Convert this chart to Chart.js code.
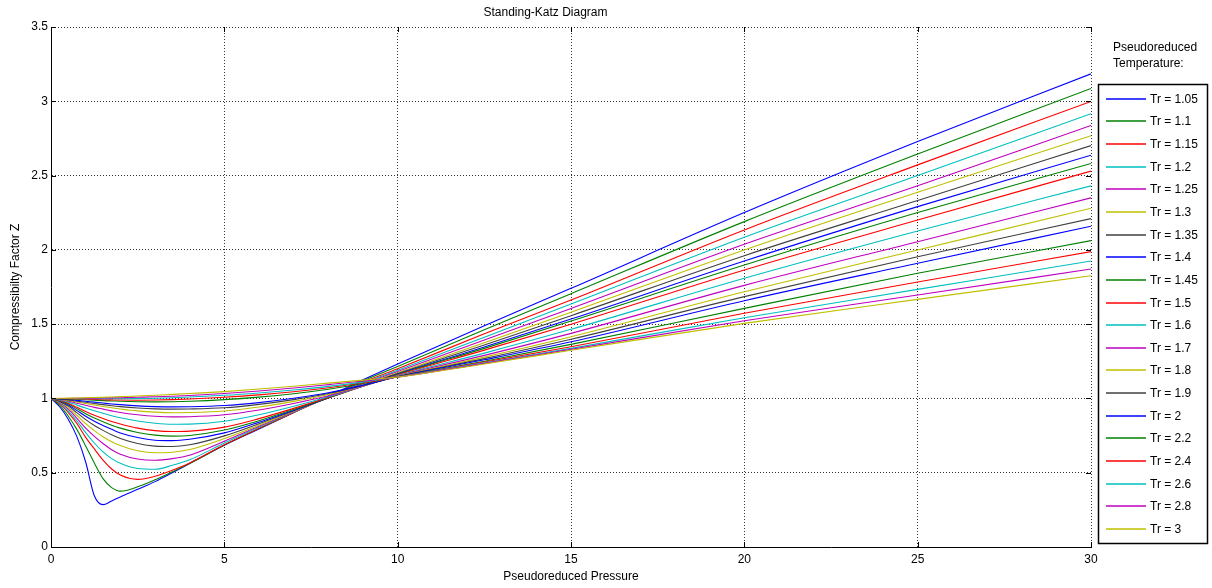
<!DOCTYPE html>
<html>
<head>
<meta charset="utf-8">
<script src="https://cdn.jsdelivr.net/npm/chart.js@4.4.1/dist/chart.umd.min.js"></script>
<style>
html,body{margin:0;padding:0;background:#fff;}
canvas{display:block;}
</style>
</head>
<body>
<canvas id="c" width="1212" height="588"></canvas>
<script>
// ---- data ----
const pressures = [0, 0.25, 0.5, 0.75, 1, 1.25, 1.5, 1.75, 2, 2.5, 3, 3.5, 4, 5, 6, 7, 8, 9, 10, 12.5, 15, 20, 25, 30];
const trValues = [1.05, 1.1, 1.15, 1.2, 1.25, 1.3, 1.35, 1.4, 1.45, 1.5, 1.6, 1.7, 1.8, 1.9, 2, 2.2, 2.4, 2.6, 2.8, 3];
const xTicks = [0, 5, 10, 15, 20, 25, 30];
const yTicks = [0, 0.5, 1, 1.5, 2, 2.5, 3, 3.5];

const z105 = [1, 0.944, 0.858, 0.741, 0.572, 0.345, 0.285, 0.31, 0.337, 0.388, 0.44, 0.50, 0.562, 0.685, 0.795, 0.905, 1.015, 1.125, 1.232, 1.49, 1.741, 2.251, 2.729, 3.185];
const z110 = [1, 0.955, 0.88, 0.79, 0.68, 0.565, 0.46, 0.40, 0.376, 0.405, 0.452, 0.506, 0.562, 0.686, 0.797, 0.905, 1.012, 1.118, 1.215, 1.462, 1.705, 2.19, 2.645, 3.086];
const z115 = [1, 0.965, 0.905, 0.83, 0.738, 0.66, 0.585, 0.525, 0.484, 0.455, 0.476, 0.517, 0.566, 0.688, 0.799, 0.905, 1.01, 1.11, 1.2, 1.435, 1.662, 2.134, 2.572, 2.999];
const z120 = [1, 0.97, 0.915, 0.848, 0.77, 0.70, 0.64, 0.595, 0.563, 0.528, 0.523, 0.55, 0.587, 0.70, 0.806, 0.908, 1.008, 1.103, 1.19, 1.412, 1.635, 2.085, 2.50, 2.916];
const z125 = [1, 0.975, 0.928, 0.866, 0.80, 0.745, 0.697, 0.655, 0.625, 0.592, 0.584, 0.595, 0.618, 0.712, 0.812, 0.91, 1.006, 1.098, 1.181, 1.393, 1.606, 2.038, 2.431, 2.837];
const z130 = [1, 0.978, 0.938, 0.885, 0.83, 0.783, 0.742, 0.708, 0.683, 0.648, 0.634, 0.638, 0.656, 0.73, 0.82, 0.913, 1.004, 1.092, 1.173, 1.375, 1.58, 1.999, 2.388, 2.768];
const z135 = [1, 0.98, 0.948, 0.903, 0.857, 0.818, 0.785, 0.755, 0.73, 0.697, 0.679, 0.676, 0.688, 0.748, 0.83, 0.917, 1.003, 1.088, 1.168, 1.36, 1.557, 1.961, 2.332, 2.702];
const z140 = [1, 0.982, 0.956, 0.918, 0.88, 0.847, 0.818, 0.792, 0.768, 0.737, 0.719, 0.716, 0.725, 0.768, 0.84, 0.921, 1.003, 1.085, 1.164, 1.346, 1.534, 1.925, 2.291, 2.637];
const z145 = [1, 0.985, 0.962, 0.93, 0.897, 0.868, 0.843, 0.82, 0.80, 0.771, 0.753, 0.746, 0.75, 0.787, 0.85, 0.926, 1.004, 1.083, 1.161, 1.337, 1.521, 1.898, 2.251, 2.581];
const z150 = [1, 0.987, 0.967, 0.94, 0.912, 0.887, 0.865, 0.845, 0.828, 0.80, 0.783, 0.777, 0.78, 0.807, 0.864, 0.933, 1.006, 1.082, 1.158, 1.325, 1.499, 1.865, 2.201, 2.530];
const z160 = [1, 0.99, 0.975, 0.955, 0.935, 0.917, 0.90, 0.884, 0.87, 0.848, 0.833, 0.826, 0.827, 0.846, 0.89, 0.947, 1.011, 1.082, 1.154, 1.305, 1.465, 1.809, 2.127, 2.431];
const z170 = [1, 0.993, 0.982, 0.968, 0.954, 0.94, 0.928, 0.916, 0.905, 0.89, 0.88, 0.876, 0.877, 0.89, 0.922, 0.966, 1.018, 1.083, 1.151, 1.29, 1.438, 1.761, 2.055, 2.35];
const z180 = [1, 0.995, 0.986, 0.976, 0.966, 0.956, 0.946, 0.937, 0.929, 0.916, 0.908, 0.904, 0.905, 0.915, 0.942, 0.98, 1.026, 1.085, 1.149, 1.278, 1.415, 1.718, 1.999, 2.28];
const z190 = [1, 0.996, 0.99, 0.982, 0.974, 0.966, 0.958, 0.951, 0.945, 0.936, 0.93, 0.928, 0.929, 0.937, 0.96, 0.992, 1.033, 1.087, 1.147, 1.268, 1.398, 1.685, 1.954, 2.21];
const z200 = [1, 0.997, 0.993, 0.987, 0.981, 0.975, 0.969, 0.963, 0.958, 0.95, 0.945, 0.943, 0.944, 0.952, 0.972, 1.001, 1.038, 1.089, 1.146, 1.26, 1.381, 1.658, 1.91, 2.159];
const z220 = [1, 0.999, 0.997, 0.994, 0.991, 0.988, 0.985, 0.983, 0.981, 0.978, 0.977, 0.978, 0.981, 0.992, 1.009, 1.032, 1.062, 1.10, 1.145, 1.25, 1.364, 1.606, 1.842, 2.062];
const z240 = [1, 1.0, 0.999, 0.997, 0.995, 0.993, 0.991, 0.99, 0.989, 0.988, 0.989, 0.992, 0.996, 1.008, 1.024, 1.045, 1.072, 1.105, 1.144, 1.245, 1.348, 1.573, 1.784, 1.988];
const z260 = [1, 1.0, 1.0, 0.999, 0.998, 0.998, 0.998, 0.998, 0.998, 0.999, 1.001, 1.005, 1.01, 1.021, 1.037, 1.057, 1.081, 1.11, 1.144, 1.24, 1.337, 1.543, 1.734, 1.925];
const z280 = [1, 1.0, 1.0, 1.001, 1.001, 1.002, 1.003, 1.004, 1.005, 1.008, 1.011, 1.015, 1.02, 1.033, 1.05, 1.07, 1.093, 1.117, 1.144, 1.236, 1.33, 1.523, 1.696, 1.871];
const z300 = [1, 1.001, 1.002, 1.003, 1.005, 1.006, 1.008, 1.01, 1.012, 1.016, 1.021, 1.027, 1.033, 1.046, 1.063, 1.082, 1.103, 1.123, 1.144, 1.232, 1.324, 1.505, 1.667, 1.826];

const seriesZ = [z105, z110, z115, z120, z125, z130, z135, z140, z145, z150, z160, z170, z180, z190, z200, z220, z240, z260, z280, z300];
const colorCycle = ['#0000FF', '#008000', '#FF0000', '#00BFBF', '#BF00BF', '#BFBF00', '#404040'];

// ---- chart ----
const FONT = "'Liberation Sans', Arial, Helvetica, sans-serif";
Chart.defaults.font.family = FONT;
Chart.defaults.font.size = 12;
Chart.defaults.color = '#000';

const datasets = seriesZ.map((z, i) => ({
  label: 'Tr = ' + trValues[i],
  data: pressures.map((p, j) => ({ x: p, y: z[j] })),
  borderColor: colorCycle[i % colorCycle.length],
  backgroundColor: colorCycle[i % colorCycle.length],
  borderWidth: 1.1,
  pointRadius: 0,
  fill: false,
  cubicInterpolationMode: 'monotone',
  order: seriesZ.length - i
}));

const legendBox = {
  id: 'legendBox',
  afterDraw(chart) {
    const ctx = chart.ctx;
    const a = chart.chartArea;
    const bx = a.right + 7, by = 84, bw = 109, bh = 459;
    ctx.save();
    ctx.font = '12px ' + FONT;
    ctx.fillStyle = '#000';
    ctx.textAlign = 'left';
    ctx.textBaseline = 'middle';
    ctx.fillText('Pseudoreduced', bx + 15, 48);
    ctx.fillText('Temperature:', bx + 15, 64);
    ctx.lineWidth = 1.5;
    ctx.strokeStyle = '#000';
    ctx.strokeRect(bx + 0.5, by + 0.5, bw, bh);
    chart.data.datasets.forEach((ds, i) => {
      const y = Math.round(98.7 + i * 22.65);
      ctx.strokeStyle = ds.borderColor;
      ctx.lineWidth = 1.6;
      ctx.beginPath();
      ctx.moveTo(bx + 8, y);
      ctx.lineTo(bx + 48, y);
      ctx.stroke();
      ctx.fillText(ds.label, bx + 52, y + 0.5);
    });
    ctx.restore();
  }
};

const innerTicks = {
  id: 'innerTicks',
  afterDraw(chart) {
    const ctx = chart.ctx;
    const a = chart.chartArea;
    const xs = chart.scales.x, ys = chart.scales.y;
    ctx.save();
    ctx.strokeStyle = '#000';
    ctx.lineWidth = 1;
    ctx.beginPath();
    xTicks.forEach(v => {
      const px = Math.round(xs.getPixelForValue(v)) + 0.5;
      ctx.moveTo(px, a.bottom); ctx.lineTo(px, a.bottom - 5);
      ctx.moveTo(px, a.top); ctx.lineTo(px, a.top + 5);
    });
    yTicks.forEach(v => {
      const py = Math.round(ys.getPixelForValue(v)) + 0.5;
      ctx.moveTo(a.left, py); ctx.lineTo(a.left + 5, py);
      ctx.moveTo(a.right, py); ctx.lineTo(a.right - 5, py);
    });
    ctx.stroke();
    ctx.restore();
  }
};

new Chart(document.getElementById('c'), {
  type: 'line',
  data: { datasets },
  options: {
    responsive: false,
    animation: false,
    events: [],
    layout: { padding: { top: 0, right: 121, bottom: 0, left: 0 } },
    plugins: {
      legend: { display: false },
      tooltip: { enabled: false },
      title: {
        display: true,
        text: 'Standing-Katz Diagram',
        color: '#000',
        font: { size: 12, weight: 'normal', family: FONT },
        padding: { top: 5, bottom: 7.6 }
      }
    },
    scales: {
      x: {
        type: 'linear',
        min: 0, max: 30,
        afterBuildTicks: s => { s.ticks = xTicks.map(v => ({ value: v })); },
        afterFit: s => { s.height = 41; },
        ticks: { color: '#000', padding: 5, maxRotation: 0, callback: v => String(v), font: { size: 12 } },
        grid: { color: '#333', lineWidth: 1, drawTicks: false },
        border: { display: true, color: '#000', width: 1, dash: [1, 2] },
        title: { display: true, text: 'Pseudoreduced Pressure', color: '#000', font: { size: 12 }, padding: { top: 0, bottom: 4 } }
      },
      y: {
        type: 'linear',
        min: 0, max: 3.5,
        afterBuildTicks: s => { s.ticks = yTicks.map(v => ({ value: v })); },
        afterFit: s => { s.width = 51; },
        ticks: { color: '#000', padding: 3, callback: v => String(v), font: { size: 12 } },
        grid: { color: '#333', lineWidth: 1, drawTicks: false },
        border: { display: true, color: '#000', width: 1, dash: [1, 2] },
        title: { display: true, text: 'Compressibilty Factor Z', color: '#000', font: { size: 12 }, padding: { top: 8, bottom: 0 } }
      }
    }
  },
  plugins: [legendBox, innerTicks]
});
</script>
</body>
</html>
